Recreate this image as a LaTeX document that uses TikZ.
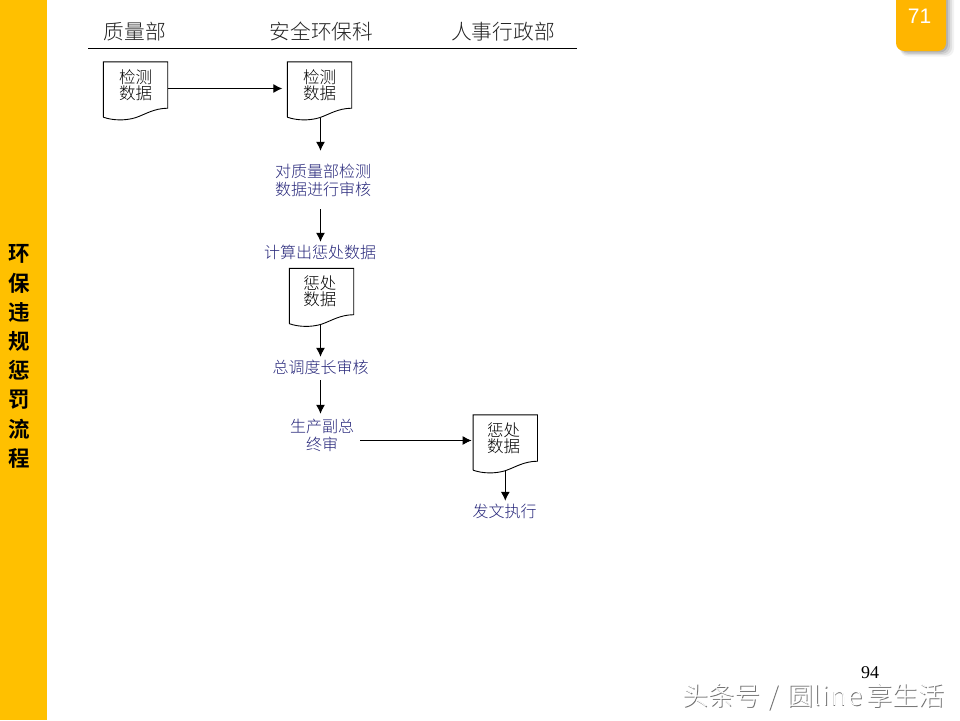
\documentclass[tikz,border=0pt]{standalone}
\usepackage{fontspec}
\setmainfont{Liberation Sans}
\newfontfamily\cjk[UprightFont=* Light,BoldFont=* Bold]{Noto Sans CJK SC}
\newfontfamily\serifnum{Liberation Serif}
\usetikzlibrary{arrows.meta}
\definecolor{barcol}{HTML}{FFC000}
\definecolor{tabcol}{HTML}{FFB500}
\definecolor{navytext}{HTML}{26267A}
\definecolor{headtext}{HTML}{222222}
\tikzset{
  docbox/.style={rectangle,minimum width=64pt,minimum height=56pt,inner sep=0pt,align=center,font=\cjk\fontsize{16.5}{16}\selectfont,text=black},
  stepbox/.style={rectangle,inner sep=0pt,align=center,font=\cjk\fontsize{16}{18}\selectfont,text=navytext},
  headbox/.style={rectangle,inner sep=0pt,font=\cjk\fontsize{20.7}{24}\selectfont,text=headtext},
  docline/.style={draw=black,line width=0.9pt,line join=miter},
  flow/.style={draw=black,line width=1pt,-{Latex[length=9pt,width=9pt]}},
  wm/.style={rectangle,inner sep=0pt,anchor=west,font=\cjk\fontsize{26}{30}\selectfont}
}
\newcommand{\docoutline}[1]{%
  \draw[docline] ([yshift=1pt]#1.south west)
    -- (#1.north west) -- (#1.north east) -- ([yshift=10pt]#1.south east)
    .. controls ([xshift=-14pt,yshift=9.8pt]#1.south east) and ([xshift=-22pt,yshift=4pt]#1.south east) .. ([yshift=0.5pt]#1.south)
    .. controls ([xshift=-10pt,yshift=-2.5pt]#1.south) and ([xshift=-22pt,yshift=-2.5pt]#1.south) .. ([yshift=1pt]#1.south west);}
\newcommand{\wmtxt}{头条号\hspace{8.5pt}/\hspace{8.5pt}圆l\kern2pt i\kern2pt n\kern2pt e\kern4pt 享生活}
\newcommand{\padl}[1]{\mbox{#1\kern3.5pt}}
\newcommand{\lowtail}{\\[-5pt]\rule{0pt}{0pt}}
\begin{document}
\begin{tikzpicture}[x=1pt,y=-1pt]
\useasboundingbox (0,0) rectangle (960,720);
\fill[white] (0,0) rectangle (960,720);
% side bar
\fill[barcol] (0,0) rectangle (47,720);
\node[rectangle,inner sep=0pt,align=center,text=black,font=\cjk\bfseries\fontsize{21.5}{29.2}\selectfont] (title) at (19.5,356.5)
  {环\\保\\违\\规\\惩\\罚\\流\\程};
% page tab
\foreach \d/\o in {8/0.05,6/0.07,4/0.09,2/0.12}{
  \fill[black,opacity=\o,rounded corners=8pt] (900,-10) rectangle (946+\d,51+\d*0.7);
}
\fill[tabcol,rounded corners=8pt] (896,-12) rectangle (946,51);
\node[rectangle,inner sep=0pt,text=white,font=\fontsize{21}{24}\selectfont] (pageno) at (919.5,16) {71};
% header
\node[headbox] (h1) at (135,32) {质量部};
\node[headbox] (h2) at (321.5,32) {安全环保科};
\node[headbox] (h3) at (503,32) {人事行政部};
\coordinate (ruleL) at (88,48);
\coordinate (ruleR) at (577,48);
\draw[black,line width=1pt] (ruleL) -- (ruleR);
% documents
\node[docbox] (d1) at (135.5,90) {检测\\数据\lowtail};
\node[docbox] (d2) at (319.5,90) {检测\\数据\lowtail};
\node[docbox] (d3) at (321.5,296.5) {\padl{惩处}\\\padl{数据}\lowtail};
\node[docbox] (d4) at (505.3,443) {\padl{惩处}\\\padl{数据}\lowtail};
\docoutline{d1}\docoutline{d2}\docoutline{d3}\docoutline{d4}
% steps
\node[stepbox,minimum height=58pt] (s1) at (323,180) {对质量部检测\\数据进行审核};
\node[stepbox,minimum height=20pt] (s2) at (320,252) {计算出惩处数据};
\node[stepbox,minimum height=20pt] (s3) at (320.5,367) {总调度长审核};
\node[stepbox,minimum height=42pt] (s4) at (322,435) {生产副总\\终审};
\node[stepbox,minimum height=20pt] (s5) at (504.5,511) {发文执行};
% connectors
\coordinate (trunk) at ([xshift=1pt]d2.south);
\draw[flow,shorten >=5pt] ([xshift=0.5pt,yshift=1.5pt]d1.east) -- ([yshift=1.5pt]d2.west);
\draw[flow] (trunk) -- (trunk |- s1.north);
\draw[flow] (trunk |- s1.south) -- (trunk |- s2.north);
\draw[flow] ([xshift=-1pt]d3.south) -- ([xshift=0pt]s3.north);
\draw[flow] ([yshift=-3pt]s3.south) -- ([xshift=-1.5pt]s4.north);
\draw[flow,shorten >=1.5pt] ([xshift=6pt,yshift=-5.5pt]s4.east) -- ([yshift=2.5pt]d4.west);
\draw[flow] (d4.south) -- (d4.south |- s5.north);
% footer
\node[rectangle,inner sep=0pt,text=black,font=\serifnum\fontsize{18}{20}\selectfont] (pagenum) at (870,673) {94};
\node[wm,text=black!55] (wmshadow) at (682.8,697.8) {\wmtxt};
\node[wm,text=white] (wmtext) at (682,697) {\wmtxt};
\end{tikzpicture}
\end{document}
